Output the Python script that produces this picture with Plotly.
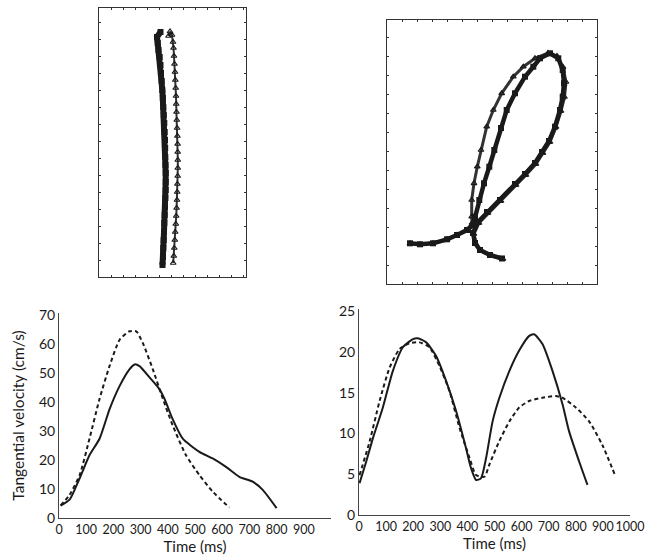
import plotly.graph_objects as go

# ---------------- data ----------------
# Top-left trajectory (position units)
tl_sq_x = [61.5,58,58.7,59.5,60.7,61.5,62,62.7,63.3,63.8,64.3,64.8,65.3,65.7,66,66.2,66.3,66.5,66.7,66.7,66.7,66.4,66,65.7,65.3,65,64.7,64.3,64,63.5]
tl_sq_y = [245,240,234,227,220,212,204,196,187,179,170,162,154,145,137,129,120,112,104,95,87,79,70,62,54,45,37,29,20,12]
tl_tr_x = [69.5,71,73,74,74.5,75,75.5,76,76.3,76.7,77,77.2,77.5,77.8,78.1,78.4,78.6,78.7,78.8,78.8,78.7,78.4,78.2,78,77.6,77.2,76.8,76.2,75.8,75.3,74.8,74.2]
tl_tr_y = [241,245.5,242,235,229,221,213,205,197,189,181,173,165,157,149,141,133,125,117,109,101,93,85,77,69,61,53,45,37,29,21,14]

# Top-right trajectory (position units)
tr_sq_x = [23,33,46,60,70,80,86,88,92.3,97,102.3,107.3,114,119.7,128,138,146.3,153,163,171.3,175.7,177,175.7,173,168,162,155,148,138,128,113,100,91,86,88,93,103,115]
tr_sq_y = [40.7,39.7,40.7,44.7,49,54,59,67.3,84,100.7,117.3,134,156,174,190.7,207.3,217.3,225.7,230.7,225.7,214,200.7,187.3,174,157.3,143,132,121,110,100,84,72,62,51,41,34,29,25.5]
tr_tr_x = [23,33,46,60,70,80,85,84.7,84.7,87,90.3,94,99.7,106.3,114.7,126.3,136.3,148,161,170,176,179,177.5,174,169,163,156,149,139,129,114,101,92,87,89,94,104,116]
tr_tr_y = [40.7,39.7,40.7,44.7,49,54,61,67.3,84,100.7,117.3,134,157.3,174,190.7,207.3,217.3,225.7,231,228,217,202,187,173,157,142,131,120,109,99,83,71,61,50,40,33,28,25]

# Bottom-left velocity profiles (ms, cm/s)
bl_solid_t = [6,39,76,112,149,186,223,259,278,296,333,369,388,418,455,516,565,614,663,712,749,800]
bl_solid_v = [4.3,6.3,13.7,21.6,27.3,37.5,45.5,51.2,52.9,52.3,48.4,44.4,41,34,27.3,22.8,20.5,17.6,14.2,12.5,9.7,3.4]
bl_dash_t = [6,39,76,112,149,186,223,259,284,308,345,382,418,467,516,565,626]
bl_dash_v = [4.3,8,14.8,27.3,41,52.4,61.4,64.3,64.3,60.3,51.2,41,31.9,21.6,14.8,9.1,3.6]

# Bottom-right velocity profiles (ms, cm/s)
br_solid_t = [2,27,52,88,125,162,199,217,248,285,321,358,395,413,432,450,469,493,518,555,591,628,646,677,714,751,775,812,843]
br_solid_v = [3.9,6.6,9.5,13.2,17.7,20.6,21.6,21.7,21.2,19.5,16.5,12.8,8.2,5.8,4.3,4.5,7,11.5,14.4,17.7,20.2,22,22.2,21,17.7,13.6,10.3,6.6,3.7]
br_dash_t = [2,39,76,113,150,186,223,260,297,334,371,408,432,463,481,518,555,591,628,677,726,751,800,849,898,947]
br_dash_v = [4.9,9,14,18.1,20.4,21.1,21.2,20.6,18.3,15.2,10.7,7,4.9,4.7,6.2,9.1,11.5,13.2,14,14.4,14.6,14.4,13.2,11.5,8.6,4.7]

bl_yticks = [0,10,20,30,40,50,60,70]
bl_xticks = [0,100,200,300,400,500,600,700,800,900]
br_yticks = [0,5,10,15,20,25]
br_xticks = [0,100,200,300,400,500,600,700,800,900,1000]

W, H = 658, 556
FONT = "Lato"
INK = "#1a1a1a"

fig = go.Figure()

# top-left
fig.add_trace(go.Scatter(x=tl_sq_x, y=tl_sq_y, xaxis="x", yaxis="y", mode="lines+markers",
                         line=dict(color=INK, width=6), marker=dict(symbol="square", size=6, color=INK),
                         showlegend=False, hoverinfo="skip"))
fig.add_trace(go.Scatter(x=tl_tr_x, y=tl_tr_y, xaxis="x", yaxis="y", mode="lines+markers",
                         line=dict(color="#333", width=2),
                         marker=dict(symbol="triangle-up-open", size=5, color=INK, line=dict(width=1.2)),
                         showlegend=False, hoverinfo="skip"))
# top-right
fig.add_trace(go.Scatter(x=tr_tr_x, y=tr_tr_y, xaxis="x2", yaxis="y2", mode="lines+markers",
                         line=dict(color="#333", width=3),
                         marker=dict(symbol="triangle-up-open", size=5, color=INK, line=dict(width=1.2)),
                         showlegend=False, hoverinfo="skip"))
fig.add_trace(go.Scatter(x=tr_sq_x, y=tr_sq_y, xaxis="x2", yaxis="y2", mode="lines+markers",
                         line=dict(color=INK, width=4.5), marker=dict(symbol="square", size=6, color=INK),
                         showlegend=False, hoverinfo="skip"))
# bottom-left
fig.add_trace(go.Scatter(x=bl_solid_t, y=bl_solid_v, xaxis="x3", yaxis="y3", mode="lines",
                         line=dict(color=INK, width=2, shape="spline", smoothing=0.6),
                         showlegend=False, hoverinfo="skip"))
fig.add_trace(go.Scatter(x=bl_dash_t, y=bl_dash_v, xaxis="x3", yaxis="y3", mode="lines",
                         line=dict(color=INK, width=2, dash="4px,3px", shape="spline", smoothing=0.6),
                         showlegend=False, hoverinfo="skip"))
# bottom-right
fig.add_trace(go.Scatter(x=br_solid_t, y=br_solid_v, xaxis="x4", yaxis="y4", mode="lines",
                         line=dict(color=INK, width=2, shape="spline", smoothing=0.6),
                         showlegend=False, hoverinfo="skip"))
fig.add_trace(go.Scatter(x=br_dash_t, y=br_dash_v, xaxis="x4", yaxis="y4", mode="lines",
                         line=dict(color=INK, width=2, dash="4px,3px", shape="spline", smoothing=0.6),
                         showlegend=False, hoverinfo="skip"))

def px(x):
    return x / W

def py(y):
    return 1 - y / H

box = dict(showline=True, mirror="ticks", linecolor="#333", linewidth=1.2, showgrid=False,
           zeroline=False, showticklabels=False, ticks="inside", ticklen=2, tickcolor="#333",
           automargin=False, fixedrange=True)
ytickfont = dict(family=FONT, size=14, color=INK)
xtickfont = dict(family=FONT, size=12.5, color=INK)
titlefont = dict(family=FONT, size=15, color=INK)
ytitlefont = dict(family=FONT, size=15.5, color=INK)
ax = dict(showline=True, linecolor="#444", linewidth=1, showgrid=False, zeroline=False,
          ticks="", fixedrange=True, automargin=False, tickangle=0)

fig.update_layout(
    width=W, height=H,
    margin=dict(l=0, r=0, t=0, b=0, autoexpand=False),
    paper_bgcolor="white", plot_bgcolor="white",
    font=dict(family=FONT, color=INK),
    xaxis=dict(box, domain=[px(99), px(246)], range=[0, 147], dtick=12),
    yaxis=dict(box, domain=[py(277), py(8)], range=[0, 269], dtick=17),
    xaxis2=dict(box, domain=[px(387), px(597)], range=[0, 210], dtick=15, anchor="y2"),
    yaxis2=dict(box, domain=[py(284), py(20)], range=[0, 264], dtick=19, anchor="x2"),
    xaxis3=dict(ax, domain=[px(59), px(331)], range=[0, 1000], tickvals=bl_xticks, anchor="y3",
                tickfont=xtickfont, title=dict(text="Time (ms)", font=titlefont, standoff=0)),
    yaxis3=dict(ax, domain=[py(518), py(313)], range=[0, 70.6], tickvals=bl_yticks, anchor="x3",
                tickfont=ytickfont,
                title=dict(text="Tangential velocity (cm/s)", font=ytitlefont, standoff=10)),
    xaxis4=dict(ax, domain=[px(359), px(630)], range=[0, 1000], tickvals=br_xticks, anchor="y4",
                tickfont=xtickfont, title=dict(text="Time (ms)", font=titlefont, standoff=0)),
    yaxis4=dict(ax, domain=[py(515), py(309)], range=[0, 25.3], tickvals=br_yticks, anchor="x4",
                tickfont=ytickfont),
)

fig.write_html("out.html", config={"displayModeBar": False},
               post_script="document.body.style.margin='0';document.body.style.padding='0';")
